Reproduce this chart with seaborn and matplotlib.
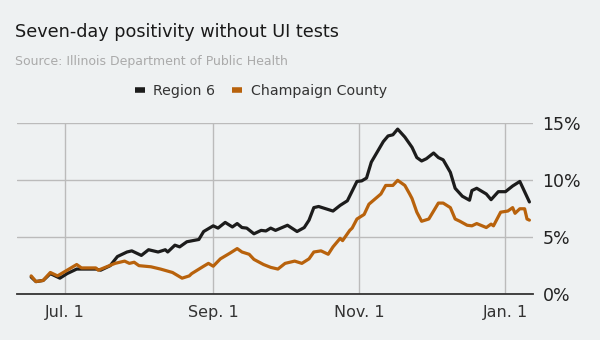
import matplotlib
matplotlib.use("Agg")
import matplotlib.pyplot as plt
import seaborn as sns
import pandas as pd
from matplotlib.lines import Line2D

region6_dates = ["2020-06-17", "2020-06-19", "2020-06-22", "2020-06-25", "2020-06-29", "2020-07-02",
                 "2020-07-06", "2020-07-09", "2020-07-14", "2020-07-16", "2020-07-20", "2020-07-23",
                 "2020-07-27", "2020-07-29", "2020-08-02", "2020-08-05", "2020-08-09", "2020-08-12",
                 "2020-08-13", "2020-08-16", "2020-08-18", "2020-08-21", "2020-08-26", "2020-08-28",
                 "2020-09-01", "2020-09-03", "2020-09-06", "2020-09-09", "2020-09-11", "2020-09-13",
                 "2020-09-15", "2020-09-18", "2020-09-21", "2020-09-23", "2020-09-25", "2020-09-27",
                 "2020-10-02", "2020-10-06", "2020-10-09", "2020-10-11", "2020-10-13", "2020-10-15",
                 "2020-10-18", "2020-10-21", "2020-10-24", "2020-10-27", "2020-10-31", "2020-11-02",
                 "2020-11-04", "2020-11-06", "2020-11-11", "2020-11-13", "2020-11-15", "2020-11-17",
                 "2020-11-20", "2020-11-23", "2020-11-25", "2020-11-27", "2020-11-29", "2020-12-02",
                 "2020-12-04", "2020-12-06", "2020-12-09", "2020-12-11", "2020-12-14", "2020-12-17",
                 "2020-12-18", "2020-12-20", "2020-12-24", "2020-12-26", "2020-12-29", "2021-01-01",
                 "2021-01-04", "2021-01-07", "2021-01-09", "2021-01-11"]
region6_values = [1.5, 1.1, 1.2, 1.8, 1.4, 1.8,
                  2.2, 2.2, 2.2, 2.1, 2.5, 3.3,
                  3.7, 3.8, 3.4, 3.9, 3.7, 3.9,
                  3.7, 4.3, 4.15, 4.6, 4.8, 5.5,
                  6.0, 5.8, 6.3, 5.9, 6.2, 5.85,
                  5.8, 5.3, 5.6, 5.55, 5.8, 5.6,
                  6.05, 5.5, 5.85, 6.5, 7.6, 7.7,
                  7.5, 7.3, 7.8, 8.2, 9.9, 9.95,
                  10.2, 11.6, 13.4, 13.9, 14.0, 14.5,
                  13.8, 12.9, 12.0, 11.7, 11.9, 12.4,
                  12.0, 11.8, 10.7, 9.3, 8.6, 8.25,
                  9.1, 9.3, 8.8, 8.3, 9.0, 9.0,
                  9.5, 9.9, 9.0, 8.1]

champaign_dates = ["2020-06-17", "2020-06-19", "2020-06-22", "2020-06-25", "2020-06-28", "2020-07-02",
                   "2020-07-06", "2020-07-08", "2020-07-14", "2020-07-15", "2020-07-22", "2020-07-26",
                   "2020-07-28", "2020-07-30", "2020-08-01", "2020-08-06", "2020-08-10", "2020-08-15",
                   "2020-08-19", "2020-08-22", "2020-08-23", "2020-08-28", "2020-08-30", "2020-09-01",
                   "2020-09-04", "2020-09-08", "2020-09-11", "2020-09-13", "2020-09-16", "2020-09-18",
                   "2020-09-22", "2020-09-25", "2020-09-28", "2020-10-01", "2020-10-05", "2020-10-08",
                   "2020-10-11", "2020-10-13", "2020-10-16", "2020-10-19", "2020-10-21", "2020-10-24",
                   "2020-10-25", "2020-10-28", "2020-10-29", "2020-10-31", "2020-11-03", "2020-11-05",
                   "2020-11-10", "2020-11-12", "2020-11-15", "2020-11-17", "2020-11-20", "2020-11-22",
                   "2020-11-23", "2020-11-25", "2020-11-27", "2020-11-30", "2020-12-04", "2020-12-06",
                   "2020-12-09", "2020-12-11", "2020-12-13", "2020-12-16", "2020-12-18", "2020-12-20",
                   "2020-12-24", "2020-12-26", "2020-12-27", "2020-12-30", "2021-01-02", "2021-01-04",
                   "2021-01-05", "2021-01-07", "2021-01-09", "2021-01-10", "2021-01-11"]
champaign_values = [1.6, 1.1, 1.2, 1.9, 1.6, 2.1,
                    2.6, 2.3, 2.3, 2.1, 2.7, 2.9,
                    2.7, 2.8, 2.5, 2.4, 2.2, 1.9,
                    1.4, 1.6, 1.8, 2.45, 2.7, 2.45,
                    3.1, 3.6, 4.0, 3.7, 3.5, 3.05,
                    2.6, 2.35, 2.2, 2.7, 2.9, 2.7,
                    3.1, 3.7, 3.8, 3.5, 4.15, 4.9,
                    4.7, 5.6, 5.8, 6.6, 7.0, 7.9,
                    8.8, 9.55, 9.55, 10.0, 9.55, 8.8,
                    8.4, 7.2, 6.4, 6.6, 8.0, 8.0,
                    7.6, 6.6, 6.4, 6.05, 6.0, 6.2,
                    5.85, 6.15, 6.0, 7.2, 7.3, 7.6,
                    7.1, 7.5, 7.5, 6.6, 6.5]

series_names = ["Region 6", "Champaign County"]
tick_dates = ["2020-07-01", "2020-09-01", "2020-11-01", "2021-01-01"]
tick_labels = ["Jul. 1", "Sep. 1", "Nov. 1", "Jan. 1"]
y_ticks = [0, 5, 10, 15]
y_labels = ["0%", "5%", "10%", "15%"]

df = pd.concat([
    pd.DataFrame({"date": pd.to_datetime(region6_dates), "value": region6_values, "series": series_names[0]}),
    pd.DataFrame({"date": pd.to_datetime(champaign_dates), "value": champaign_values, "series": series_names[1]}),
], ignore_index=True)

bg = "#eef1f2"
sns.set_theme(style="white")
plt.rcParams["font.family"] = ["DejaVu Sans"]

fig = plt.figure(figsize=(6, 3.4), dpi=100, facecolor=bg)
ax = fig.add_axes([0.028, 0.135, 0.86, 0.502])
ax.set_facecolor(bg)

palette = {series_names[0]: "#1c1c1c", series_names[1]: "#b8620c"}
sns.lineplot(data=df, x="date", y="value", hue="series", palette=palette,
             linewidth=2.3, ax=ax, legend=False, zorder=3)

ax.set_xlim(pd.Timestamp("2020-06-11"), pd.Timestamp("2021-01-12 10:00"))
ax.set_ylim(0, 15)
ax.set_xticks(pd.to_datetime(tick_dates))
ax.set_xticklabels(tick_labels)
ax.set_yticks(y_ticks)
ax.set_yticklabels(y_labels)
ax.yaxis.tick_right()
ax.tick_params(axis="x", length=0, pad=8, labelsize=11.5, labelcolor="#333333")
ax.tick_params(axis="y", length=0, pad=7, labelsize=12.5, labelcolor="#222222")
ax.set_xlabel("")
ax.set_ylabel("")
ax.grid(True, color="#bbbbbb", linewidth=1, zorder=0)
for s in ["top", "left", "right"]:
    ax.spines[s].set_visible(False)
ax.spines["bottom"].set_color("#333333")
ax.spines["bottom"].set_linewidth(1.3)
ax.spines["bottom"].set_zorder(4)

fig.text(15 / 600, 1 - 32 / 340, "Seven-day positivity without UI tests", fontsize=12.7,
         color="#1a1a1a", ha="left", va="center")
fig.text(15 / 600, 1 - 61 / 340, "Source: Illinois Department of Public Health", fontsize=9.0,
         color="#aaaaaa", ha="left", va="center")

handles = [Line2D([], [], color=palette[n], linewidth=4, solid_capstyle="butt") for n in series_names]
fig.legend(handles, series_names, loc="center", bbox_to_anchor=(261 / 600, 1 - 91 / 340), ncol=2,
           frameon=False, handlelength=0.7, handletextpad=0.6, columnspacing=1.2,
           fontsize=10.2, labelcolor="#333333")

fig.savefig("out.png", dpi=100, facecolor=bg)
